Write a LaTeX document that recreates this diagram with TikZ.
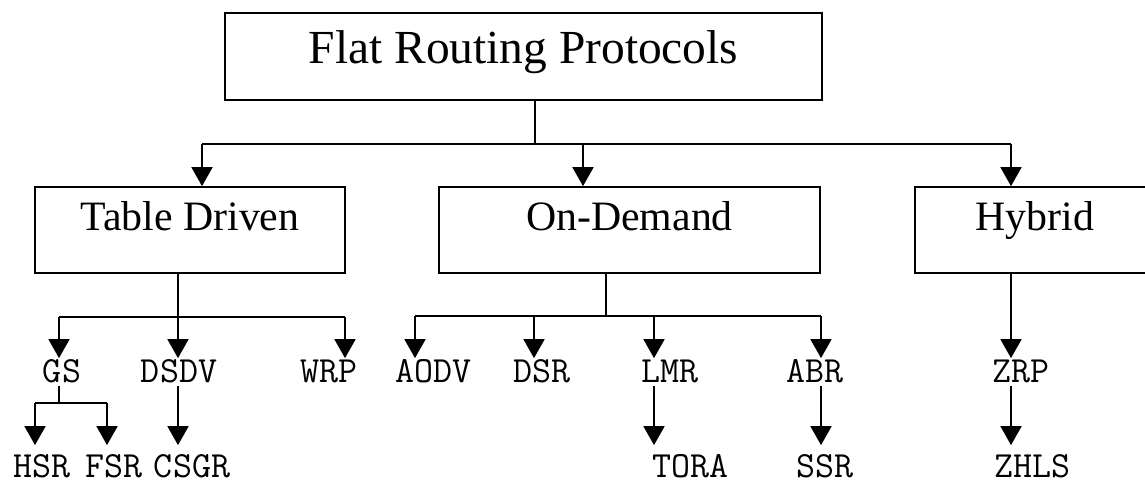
\documentclass[tikz,border=0pt]{standalone}
\usepackage{fontspec}
\setmainfont{Liberation Serif}
\usetikzlibrary{arrows.meta}

\begin{document}
\begin{tikzpicture}[x=0.02cm, y=-0.02cm, line width=0.035cm,
    arr/.style={-{Triangle[length=0.38cm, width=0.42cm]}},
    box/.style={draw, inner ysep=0pt, text height=0.86cm, text depth=0.86cm, anchor=base,
        font=\fontsize{23.8}{28}\selectfont},
    leaf/.style={inner xsep=0pt, inner ysep=0.06cm, text height=0.4cm, text depth=0pt, anchor=base,
        font=\ttfamily\fontsize{21}{25}\selectfont}]
    \useasboundingbox (0,0) rectangle (1145,484);

    % Title and the three families
    \node[box, minimum width=11.94cm, text height=1cm, text depth=0.74cm,
        font=\fontsize{27}{31}\selectfont] (flat) at (523.5,63) {Flat Routing Protocols};
    \node[box, minimum width=6.2cm] (table) at (190,230) {Table Driven};
    \node[box, minimum width=7.62cm] (demand) at (629.5,230) {On-Demand};
    \node[box, minimum width=4.8cm] (hybrid) at (1035,230) {Hybrid};

    % Protocols, first and second row
    \foreach \name/\x/\txt in {gs/62/GS, dsdv/179/DSDV, wrp/329/WRP, aodv/433/AODV,
                               dsr/542/DSR, lmr/670/LMR, abr/815/ABR, zrp/1021/ZRP}
        \node[leaf] (\name) at (\x,382) {\txt};
    \foreach \name/\x/\txt in {hsr/42/HSR, fsr/114/FSR, csgr/192/CSGR,
                               tora/690/TORA, ssr/825/SSR, zhls/1032/ZHLS}
        \node[leaf] (\name) at (\x,477) {\txt};

    % Title -> families
    \coordinate (split) at (535,144);
    \coordinate (tin) at (202,144);
    \coordinate (din) at (583,144);
    \coordinate (hin) at (1011,144);
    \draw (flat.south -| split) -- (split);
    \draw (tin) -- (hin);
    \foreach \c/\n in {tin/table, din/demand, hin/hybrid}
        \draw[arr] (\c) -- (\c |- \n.north);

    % Table driven
    \coordinate (gsin) at (59,317);
    \coordinate (dsdvin) at (178,317);
    \coordinate (wrpin) at (345,317);
    \draw (table.south -| dsdvin) -- (dsdvin);
    \draw (gsin) -- (wrpin);
    \foreach \c/\n in {gsin/gs, dsdvin/dsdv, wrpin/wrp}
        \draw[arr] (\c) -- (\c |- \n.north);

    % On-demand
    \coordinate (osplit) at (606,316);
    \coordinate (aodvin) at (415,316);
    \coordinate (dsrin) at (534,316);
    \coordinate (lmrin) at (654,316);
    \coordinate (abrin) at (821,316);
    \draw (demand.south -| osplit) -- (osplit);
    \draw (aodvin) -- (abrin);
    \foreach \c/\n in {aodvin/aodv, dsrin/dsr, lmrin/lmr, abrin/abr}
        \draw[arr] (\c) -- (\c |- \n.north);

    % Hybrid
    \draw[arr] (hybrid.south -| hin) -- (hin |- zrp.north);

    % Second level
    \coordinate (gssplit) at (59,403);
    \coordinate (hsrin) at (35,403);
    \coordinate (fsrin) at (107,403);
    \draw (gs.south -| gssplit) -- (gssplit);
    \draw (hsrin) -- (fsrin);
    \draw[arr, shorten >=0.16cm] (hsrin) -- (hsrin |- hsr.north);
    \draw[arr, shorten >=0.16cm] (fsrin) -- (fsrin |- fsr.north);
    \draw[arr, shorten >=0.16cm] (dsdv.south -| dsdvin) -- (dsdvin |- csgr.north);
    \draw[arr, shorten >=0.16cm] (lmr.south -| lmrin) -- (lmrin |- tora.north);
    \draw[arr, shorten >=0.16cm] (abr.south -| abrin) -- (abrin |- ssr.north);
    \draw[arr, shorten >=0.16cm] (zrp.south -| hin) -- (hin |- zhls.north);
\end{tikzpicture}
\end{document}
